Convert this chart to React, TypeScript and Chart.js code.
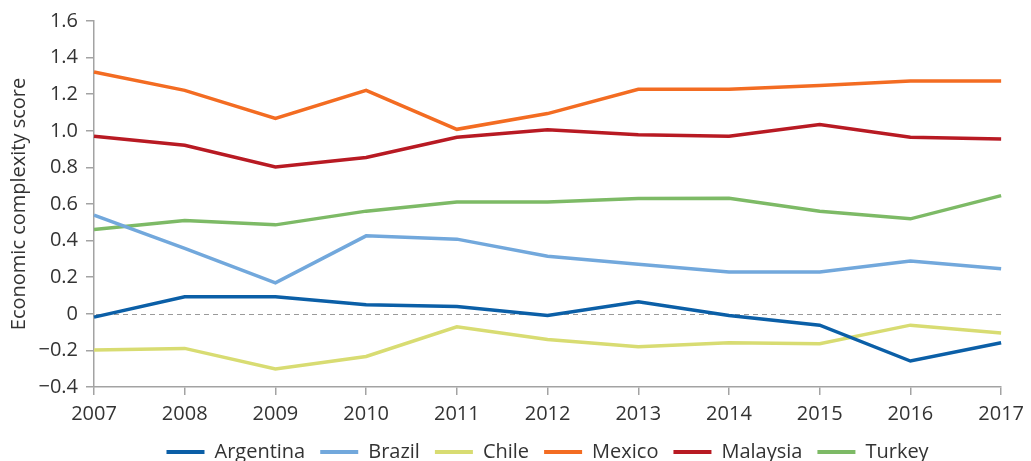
import React, { useEffect, useRef } from "react";
import { Chart, registerables } from "chart.js";

Chart.register(...registerables);

const years = ["2007", "2008", "2009", "2010", "2011", "2012", "2013", "2014", "2015", "2016", "2017"];
const argentina = [-0.018, 0.093, 0.093, 0.049, 0.040, -0.009, 0.066, -0.009, -0.062, -0.258, -0.158];
const brazil = [0.539, 0.357, 0.169, 0.426, 0.408, 0.315, 0.271, 0.229, 0.229, 0.289, 0.246];
const chile = [-0.198, -0.189, -0.302, -0.233, -0.071, -0.140, -0.180, -0.158, -0.164, -0.062, -0.105];
const mexico = [1.321, 1.221, 1.067, 1.221, 1.008, 1.094, 1.227, 1.227, 1.248, 1.272, 1.272];
const malaysia = [0.970, 0.921, 0.802, 0.854, 0.965, 1.006, 0.979, 0.970, 1.034, 0.965, 0.955];
const turkey = [0.461, 0.510, 0.486, 0.561, 0.611, 0.611, 0.630, 0.632, 0.561, 0.519, 0.646];

const seriesNames = ["Argentina", "Brazil", "Chile", "Mexico", "Malaysia", "Turkey"];
const seriesValues = [argentina, brazil, chile, mexico, malaysia, turkey];
const seriesColors = ["#0b5fa7", "#72a8dc", "#d8dc72", "#f36c22", "#b81a23", "#7dba66"];

const yTitle = "Economic complexity score";

const FONT = "'Open Sans', sans-serif";
const TEXT = "#333333";
const AXIS = "#a3a3a3";

const zeroLine = {
  id: "zeroLine",
  beforeDatasetsDraw(chart: any) {
    const { ctx, chartArea, scales } = chart;
    const y = scales.y.getPixelForValue(0);
    ctx.save();
    ctx.strokeStyle = "#9a9a9a";
    ctx.lineWidth = 1;
    ctx.setLineDash([5, 4]);
    ctx.beginPath();
    ctx.moveTo(chartArea.left + 2, Math.round(y) + 0.5);
    ctx.lineTo(chartArea.right, Math.round(y) + 0.5);
    ctx.stroke();
    ctx.restore();
  },
};

export default function App() {
  const ref = useRef<HTMLCanvasElement | null>(null);

  useEffect(() => {
    if (!ref.current) return;
    const chart = new Chart(ref.current, {
      type: "line",
      data: {
        labels: years,
        datasets: seriesNames.map((name, i) => ({
          label: name,
          data: seriesValues[i],
          borderColor: seriesColors[i],
          backgroundColor: seriesColors[i],
          borderWidth: 3.5,
          pointRadius: 0,
          pointHoverRadius: 0,
          tension: 0,
          fill: false,
        })),
      },
      options: {
        responsive: false,
        animation: false,
        events: [],
        layout: { padding: { top: 21, right: 27, bottom: 0, left: 0 } },
        plugins: {
          tooltip: { enabled: false },
          legend: {
            position: "bottom",
            fullSize: false,
            maxHeight: 34,
            labels: {
              boxWidth: 38,
              boxHeight: 4,
              padding: 15,
              color: TEXT,
              font: { family: FONT, size: 20 },
              generateLabels: (c: any) =>
                c.data.datasets.map((ds: any, i: number) => ({
                  text: ds.label,
                  fillStyle: ds.borderColor,
                  strokeStyle: ds.borderColor,
                  lineWidth: 0,
                  hidden: false,
                  datasetIndex: i,
                  fontColor: TEXT,
                })),
            },
          },
        },
        scales: {
          x: {
            type: "category",
            offset: false,
            grid: {
              display: true,
              drawOnChartArea: false,
              drawTicks: true,
              tickLength: 8,
              color: AXIS,
              lineWidth: 1.5,
            },
            border: { display: true, color: AXIS, width: 1.5 },
            ticks: {
              color: TEXT,
              padding: 7,
              maxRotation: 0,
              autoSkip: false,
              font: { family: FONT, size: 20 },
            },
            afterFit: (s: any) => {
              s.height = 40;
            },
          },
          y: {
            min: -0.4,
            max: 1.6,
            grid: {
              display: true,
              drawOnChartArea: false,
              drawTicks: true,
              tickLength: 8,
              color: AXIS,
              lineWidth: 1.5,
            },
            border: { display: true, color: AXIS, width: 1.5 },
            ticks: {
              stepSize: 0.2,
              color: TEXT,
              padding: 8,
              font: { family: FONT, size: 20 },
              callback: (v: any) => {
                const n = Number(v);
                if (Math.abs(n) < 1e-9) return "0";
                return n < 0 ? "\u2212" + Math.abs(n).toFixed(1) : n.toFixed(1);
              },
            },
            title: {
              display: true,
              text: yTitle,
              color: TEXT,
              padding: { top: 7, bottom: 0 },
              font: { family: FONT, size: 20 },
            },
            afterFit: (s: any) => {
              s.width = 94;
            },
          },
        },
      },
      plugins: [zeroLine],
    });
    return () => chart.destroy();
  }, []);

  return (
    <div style={{ position: "fixed", left: 0, top: 0, width: 1031, height: 461, background: "#fff" }}>
      <canvas ref={ref} width={1031} height={461} />
    </div>
  );
}
